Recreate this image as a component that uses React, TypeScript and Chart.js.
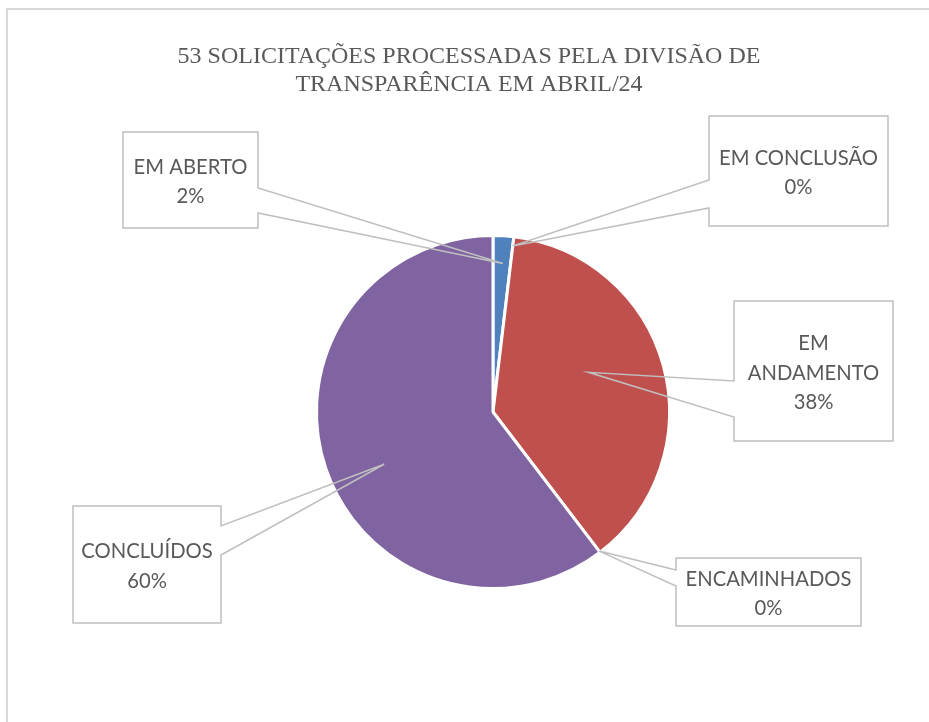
import React, { useEffect, useRef } from "react";
import { Chart, registerables } from "chart.js";

Chart.register(...registerables);

const TITLE_LINES = ["53 SOLICITAÇÕES PROCESSADAS PELA DIVISÃO DE", "TRANSPARÊNCIA EM ABRIL/24"];
const CATEGORIES = ["EM ABERTO", "EM CONCLUSÃO", "EM ANDAMENTO", "ENCAMINHADOS", "CONCLUÍDOS"];
const LABEL_LINES = [["EM ABERTO"], ["EM CONCLUSÃO"], ["EM", "ANDAMENTO"], ["ENCAMINHADOS"], ["CONCLUÍDOS"]];
const VALUES = [1, 0, 20, 0, 32];
const COLORS = ["#4F81BD", "#9BBB59", "#C0504D", "#4BACC6", "#8064A2"];

// Callout layout (box in px, pointer base on box side, anchor as fraction of slice angle / radius)
const CALLOUTS = [
  { box: [123, 132, 258, 228], side: "right", p: [188, 213], f: 0.56, k: 0.85 },
  { box: [709, 116, 888, 226], side: "left", p: [180, 208], f: 0, k: 0.955 },
  { box: [734, 301, 893, 441], side: "left", p: [381, 417], f: 0.446, k: 0.59 },
  { box: [676, 558, 861, 626], side: "left", p: [570, 586], f: 0, k: 1.0 },
  { box: [73, 506, 221, 623], side: "right", p: [526, 555], f: 0.468, k: 0.69 },
];

const TEXT_COLOR = "#595959";
const LABEL_FONT = "22px Lato";
const LABEL_SQUASH = 0.92;
const TITLE_FONT = "24px 'Liberation Serif'";
const LINE_H = 29.5;

const decorPlugin = {
  id: "decor",
  beforeDraw(chart: any) {
    const ctx = chart.ctx;
    ctx.save();
    ctx.fillStyle = "#ffffff";
    ctx.fillRect(0, 0, chart.width, chart.height);
    ctx.strokeStyle = "#d9d9d9";
    ctx.lineWidth = 2;
    ctx.beginPath();
    ctx.moveTo(7, chart.height);
    ctx.lineTo(7, 9);
    ctx.lineTo(chart.width, 9);
    ctx.stroke();
    // title
    ctx.fillStyle = TEXT_COLOR;
    ctx.font = TITLE_FONT;
    ctx.textAlign = "center";
    ctx.textBaseline = "middle";
    TITLE_LINES.forEach((t, i) => ctx.fillText(t, 469, 57 + i * 27.5));
    ctx.restore();
  },
  afterDatasetsDraw(chart: any) {
    const ctx = chart.ctx;
    const meta = chart.getDatasetMeta(0);
    const total = VALUES.reduce((a, b) => a + b, 0);
    ctx.save();
    meta.data.forEach((arc: any, i: number) => {
      const c = CALLOUTS[i];
      const { x, y, startAngle, endAngle, outerRadius } = arc.getProps(
        ["x", "y", "startAngle", "endAngle", "outerRadius"],
        true
      );
      const a = startAngle + c.f * (endAngle - startAngle);
      const r = c.k * (outerRadius - 1.5);
      const tx = x + r * Math.cos(a);
      const ty = y + r * Math.sin(a);
      const [x1, y1, x2, y2] = c.box;
      ctx.fillStyle = "#ffffff";
      ctx.fillRect(x1, y1, x2 - x1, y2 - y1);
      ctx.strokeStyle = "#bfbfbf";
      ctx.lineWidth = 1.5;
      ctx.lineJoin = "miter";
      ctx.beginPath();
      if (c.side === "right") {
        ctx.moveTo(x1, y1);
        ctx.lineTo(x2, y1);
        ctx.lineTo(x2, c.p[0]);
        ctx.lineTo(tx, ty);
        ctx.lineTo(x2, c.p[1]);
        ctx.lineTo(x2, y2);
        ctx.lineTo(x1, y2);
        ctx.closePath();
      } else {
        ctx.moveTo(x2, y1);
        ctx.lineTo(x1, y1);
        ctx.lineTo(x1, c.p[0]);
        ctx.lineTo(tx, ty);
        ctx.lineTo(x1, c.p[1]);
        ctx.lineTo(x1, y2);
        ctx.lineTo(x2, y2);
        ctx.closePath();
      }
      ctx.stroke();
      const lines = [...LABEL_LINES[i], Math.round((VALUES[i] / total) * 100) + "%"];
      const cx = (x1 + x2) / 2;
      const cy = (y1 + y2) / 2 + 1.5;
      ctx.fillStyle = TEXT_COLOR;
      ctx.font = LABEL_FONT;
      ctx.textAlign = "center";
      ctx.textBaseline = "middle";
      lines.forEach((t, j) => {
        ctx.save();
        ctx.translate(cx, cy + (j - (lines.length - 1) / 2) * LINE_H);
        ctx.scale(LABEL_SQUASH, 1);
        ctx.fillText(t, 0, 0);
        ctx.restore();
      });
    });
    ctx.restore();
  },
};

export default function App() {
  const ref = useRef<HTMLCanvasElement | null>(null);
  useEffect(() => {
    if (!ref.current) return;
    const chart = new Chart(ref.current, {
      type: "pie",
      data: {
        labels: CATEGORIES,
        datasets: [
          {
            data: VALUES,
            backgroundColor: COLORS,
            borderColor: "#ffffff",
            borderWidth: 3,
          },
        ],
      },
      options: {
        responsive: false,
        animation: false,
        radius: 176.5,
        layout: { padding: { left: 100, right: 43, top: 150, bottom: 48 } },
        plugins: {
          legend: { display: false },
          title: { display: false },
          tooltip: { enabled: false },
        },
      } as any,
      plugins: [decorPlugin],
    });
    return () => chart.destroy();
  }, []);
  return (
    <div style={{ position: "fixed", left: 0, top: 0, width: 929, height: 722 }}>
      <canvas ref={ref} width={929} height={722} />
    </div>
  );
}
